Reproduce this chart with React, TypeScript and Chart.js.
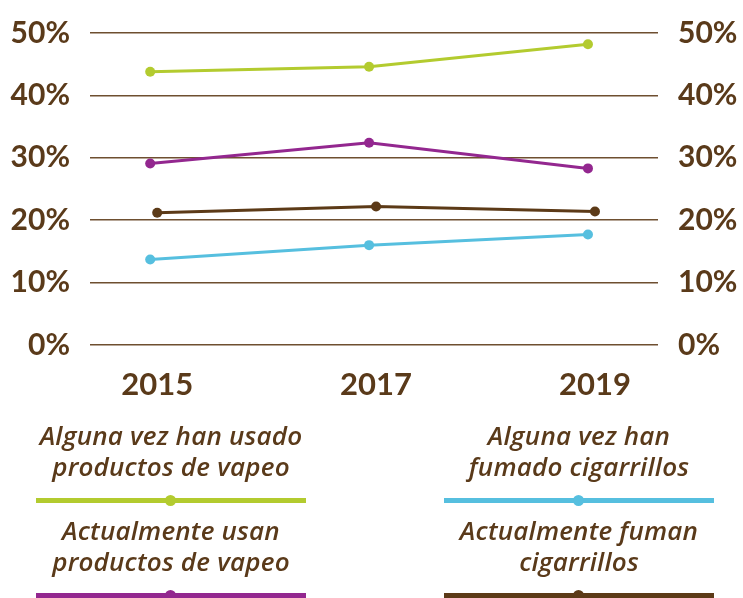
import React, { useEffect, useRef } from "react";
import { Chart, registerables } from "chart.js";

Chart.register(...registerables);

const years = [2015, 2017, 2019];
const tickValues = [0, 10, 20, 30, 40, 50];
const everVaped = [43.8, 44.6, 48.2];
const currentVaped = [29.1, 32.4, 28.3];
const currentSmoked = [21.2, 22.2, 21.4];
const everSmoked = [13.7, 16.0, 17.7];

const seriesNames = [
  "Alguna vez han usado productos de vapeo",
  "Actualmente usan productos de vapeo",
  "Actualmente fuman cigarrillos",
  "Alguna vez han fumado cigarrillos",
];

const GREEN = "#b3cb2f";
const PURPLE = "#93278f";
const BROWN = "#5c3a17";
const BLUE = "#56bfdf";
const TEXT = "#5a3a1a";
const GRID = "#6e4f30";
const FONT = "Lato, 'Open Sans', sans-serif";
const LEGEND_FONT = "'Open Sans', Lato, sans-serif";

const X_MIN = 2014.45;
const X_MAX = 2019.64;
const BROWN_SHIFT = 0.064;

function LegendItem(props: { left: number; top: number; lines: string[]; color: string }) {
  const { left, top, lines, color } = props;
  return (
    <div style={{ position: "absolute", left, top, width: 270 }}>
      <div
        style={{
          position: "absolute",
          left: -40,
          width: 350,
          top: -1,
          textAlign: "center",
          fontFamily: LEGEND_FONT,
          fontStyle: "italic",
          fontWeight: 600,
          fontSize: 26,
          letterSpacing: "0.2px",
          lineHeight: "31px",
          color: TEXT,
          whiteSpace: "nowrap",
        }}
      >
        {lines.map((l, i) => (
          <div key={i}>{l}</div>
        ))}
      </div>
      <div style={{ position: "absolute", left: 0, top: 77, width: 270, height: 5, background: color }} />
      <div
        style={{
          position: "absolute",
          left: 129,
          top: 74,
          width: 11,
          height: 11,
          borderRadius: "50%",
          background: color,
        }}
      />
    </div>
  );
}

export default function App() {
  const ref = useRef<HTMLCanvasElement | null>(null);

  useEffect(() => {
    if (!ref.current) return;
    const mk = (label: string, vals: number[], color: string, xAxisID = "x") => ({
      label,
      xAxisID,
      data: years.map((y, i) => ({ x: y, y: vals[i] })),
      borderColor: color,
      backgroundColor: color,
      borderWidth: 3,
      pointRadius: 5,
      pointHoverRadius: 5,
      pointBorderWidth: 0,
      tension: 0,
    });
    const yTicks = {
      color: TEXT,
      font: { family: FONT, size: 30, weight: "bold" as const },
      padding: 20,
      stepSize: 10,
      callback: (v: any) => v + "%",
    };
    const chart = new Chart(ref.current, {
      type: "line",
      data: {
        datasets: [
          mk(seriesNames[0], everVaped, GREEN),
          mk(seriesNames[1], currentVaped, PURPLE),
          mk(seriesNames[2], currentSmoked, BROWN, "xb"),
          mk(seriesNames[3], everSmoked, BLUE),
        ],
      },
      options: {
        animation: false,
        responsive: false,
        layout: { padding: { top: 5, left: 0, right: 0, bottom: 0 } },
        plugins: { legend: { display: false }, tooltip: { enabled: false } },
        scales: {
          x: {
            type: "linear",
            min: X_MIN,
            max: X_MAX,
            afterBuildTicks: (s: any) => {
              s.ticks = years.map((v) => ({ value: v }));
            },
            afterFit: (s: any) => {
              s.height = 75;
            },
            grid: { display: false },
            border: { display: false },
            ticks: {
              color: TEXT,
              font: { family: FONT, size: 31, weight: "bold" },
              padding: 13,
              labelOffset: 7,
              maxRotation: 0,
              callback: (v: any) => String(v),
            },
          },
          xb: {
            type: "linear",
            display: false,
            min: X_MIN - BROWN_SHIFT,
            max: X_MAX - BROWN_SHIFT,
          },
          y: {
            position: "left",
            min: 0,
            max: 50,
            afterBuildTicks: (s: any) => {
              s.ticks = tickValues.map((v) => ({ value: v }));
            },
            afterFit: (s: any) => {
              s.width = 90;
            },
            grid: { color: GRID, lineWidth: 1.5, drawTicks: false },
            border: { display: false },
            ticks: yTicks,
          },
          y2: {
            position: "right",
            min: 0,
            max: 50,
            afterBuildTicks: (s: any) => {
              s.ticks = tickValues.map((v) => ({ value: v }));
            },
            afterFit: (s: any) => {
              s.width = 85;
            },
            grid: { display: false, drawTicks: false },
            border: { display: false },
            ticks: yTicks,
          },
        },
      },
    });
    return () => chart.destroy();
  }, []);

  return (
    <div style={{ position: "fixed", left: 0, top: 0, width: 743, height: 598, background: "#fff", overflow: "hidden" }}>
      <canvas ref={ref} width={743} height={425} style={{ position: "absolute", left: 0, top: -5 }} />
      <LegendItem left={36} top={421} lines={["Alguna vez han usado", "productos de vapeo"]} color={GREEN} />
      <LegendItem left={444} top={421} lines={["Alguna vez han", "fumado cigarrillos"]} color={BLUE} />
      <LegendItem left={36} top={516} lines={["Actualmente usan", "productos de vapeo"]} color={PURPLE} />
      <LegendItem left={444} top={516} lines={["Actualmente fuman", "cigarrillos"]} color={BROWN} />
    </div>
  );
}
